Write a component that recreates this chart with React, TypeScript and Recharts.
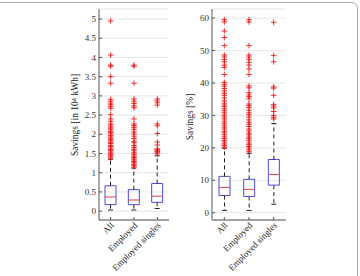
import React from 'react';
import { ComposedChart, Bar, Scatter, XAxis, YAxis, CartesianGrid } from 'recharts';

const categories = ['All', 'Employed', 'Employed singles'];

// energy savings, 10^4 kWh
const energyLow = [0.03, 0.03, 0.07];
const energyQ1 = [0.17, 0.17, 0.23];
const energyMedian = [0.37, 0.29, 0.39];
const energyQ3 = [0.66, 0.56, 0.72];
const energyHigh = [1.35, 1.12, 1.44];
const energyTicks = [0, 0.5, 1, 1.5, 2, 2.5, 3, 3.5, 4, 4.5, 5];

const energyOutAll = [
  4.95, 4.06, 3.8, 3.77, 3.5, 3.33, 2.91, 2.86, 2.81, 2.77, 2.72, 2.68, 2.51, 2.4, 2.34,
  2.27, 2.24, 2.19, 2.16, 2.12, 2.07, 2.05, 2.01, 1.97, 1.93, 1.9, 1.86, 1.83, 1.79, 1.76,
  1.71, 1.68, 1.64, 1.61, 1.58, 1.54, 1.51, 1.47, 1.44, 1.41, 1.38,
];
const energyOutEmployed = [
  3.8, 3.77, 3.33, 2.92, 2.86, 2.8, 2.74, 2.69, 2.4, 2.27, 2.23, 2.18, 2.13, 2.06, 2.01,
  1.95, 1.89, 1.82, 1.78, 1.71, 1.66, 1.61, 1.57, 1.52, 1.48, 1.43, 1.4, 1.36, 1.33, 1.29,
  1.26, 1.22, 1.19, 1.15,
];
const energyOutSingles = [
  2.92, 2.87, 2.82, 2.76, 2.27, 2.22, 2.02, 1.8, 1.72, 1.62, 1.6, 1.57, 1.55, 1.52, 1.49,
];

// relative savings, %
const shareLow = [0.7, 0.7, 2.6];
const shareQ1 = [5.3, 5.0, 8.5];
const shareMedian = [7.8, 7.2, 11.8];
const shareQ3 = [11.2, 10.3, 16.4];
const shareHigh = [19.9, 18.3, 27.5];
const shareTicks = [0, 10, 20, 30, 40, 50, 60];

const shareOutAll = [
  59.5, 58.8, 56, 54, 51.5, 48.6, 48, 47.2, 46.5, 45.5, 44.8, 42.6, 40.2, 39.6, 39, 38.3,
  37.5, 36.8, 36.2, 35.4, 34.5, 33.8, 33.2, 32.7, 32, 31.4, 30.8, 30.1, 29.5, 28.9, 28.2,
  27.6, 27, 26.4, 25.8, 25.1, 24.6, 24, 23.4, 22.9, 22.3, 21.8, 21.2, 20.7, 20.2,
];
const shareOutEmployed = [
  59.5, 58.8, 51.5, 48.6, 48, 47.3, 46.4, 45.5, 44.3, 42.6, 39.1, 38.5, 37, 36.3, 35.8,
  35.1, 33.5, 33, 32.4, 31.6, 30.8, 30.2, 29.5, 28.6, 27.9, 27.3, 26.6, 25.8, 25.2, 24.5,
  24, 23.3, 22.8, 22.2, 21.5, 21, 20.4, 19.9, 19.3, 18.8,
];
const shareOutSingles = [
  58.7, 48.5, 46.5, 38.8, 38.4, 36.2, 33.4, 32.9, 32.3, 31.2, 30, 29.4, 28.9,
];

const FONT = '"Liberation Serif", "DejaVu Serif", serif';
const AXIS = '#555555';
const BOX = '#4b4bd6';
const MEDIAN = '#e0404a';
const OUTLIER = '#f01010';

// stacked segments: hidden base, lower whisker, lower box, upper box, upper whisker
const buildRows = (low: number[], q1: number[], med: number[], q3: number[], high: number[]) =>
  categories.map((name, i) => ({
    name,
    base: low[i],
    wLow: q1[i] - low[i],
    boxLow: med[i] - q1[i],
    boxHigh: q3[i] - med[i],
    wHigh: high[i] - q3[i],
  }));

const buildOutliers = (lists: number[][]) =>
  lists.flatMap((list, i) => list.map((v) => ({ name: categories[i], v })));

const LowerWhisker = (p: any) => {
  const cx = p.x + p.width / 2;
  return (
    <g>
      <line x1={cx} x2={cx} y1={p.y} y2={p.y + p.height} stroke="#222" strokeDasharray="4 3" />
      <line x1={cx - 2.5} x2={cx + 2.5} y1={p.y + p.height} y2={p.y + p.height} stroke="#222" />
    </g>
  );
};

const UpperWhisker = (p: any) => {
  const cx = p.x + p.width / 2;
  return (
    <g>
      <line x1={cx} x2={cx} y1={p.y + p.height} y2={p.y} stroke="#222" strokeDasharray="4 3" />
      <line x1={cx - 2.5} x2={cx + 2.5} y1={p.y} y2={p.y} stroke="#222" />
    </g>
  );
};

const BoxLower = (p: any) => (
  <g>
    <path
      d={`M${p.x},${p.y} V${p.y + p.height} H${p.x + p.width} V${p.y}`}
      fill="none"
      stroke={BOX}
    />
    <line x1={p.x} x2={p.x + p.width} y1={p.y} y2={p.y} stroke={MEDIAN} />
  </g>
);

const BoxUpper = (p: any) => (
  <path
    d={`M${p.x},${p.y + p.height} V${p.y} H${p.x + p.width} V${p.y + p.height}`}
    fill="none"
    stroke={BOX}
  />
);

const Cross = (p: any) => (
  <path
    d={`M${p.cx - 2.8},${p.cy} H${p.cx + 2.8} M${p.cx},${p.cy - 2.8} V${p.cy + 2.8}`}
    stroke={OUTLIER}
    strokeOpacity={0.85}
    strokeWidth={1}
  />
);

const CategoryTick = (p: any) => {
  const x = p.x + 4;
  const y = p.y + 6;
  return (
    <text
      x={x}
      y={y}
      transform={`rotate(-45 ${x} ${y})`}
      textAnchor="end"
      fontSize={9}
      fontFamily={FONT}
      fill="#222"
    >
      {p.payload.value}
    </text>
  );
};

interface PanelProps {
  rows: ReturnType<typeof buildRows>;
  outliers: { name: string; v: number }[];
  domain: [number, number];
  ticks: number[];
  width: number;
  axisWidth: number;
  right: number;
}

const BoxPanel: React.FC<PanelProps> = ({ rows, outliers, domain, ticks, width, axisWidth, right }) => (
  <ComposedChart
    width={width}
    height={276}
    data={rows}
    margin={{ top: 9, right, bottom: 0, left: 0 }}
    barSize={11}
  >
    <CartesianGrid vertical={false} stroke="#e6e6e6" />
    <XAxis
      dataKey="name"
      allowDuplicatedCategory={false}
      height={56}
      stroke={AXIS}
      tickSize={-3}
      tickMargin={3}
      tick={<CategoryTick />}
      interval={0}
    />
    <XAxis
      xAxisId="top"
      orientation="top"
      dataKey="name"
      allowDuplicatedCategory={false}
      height={0}
      stroke={AXIS}
      tickSize={-3}
      tickFormatter={() => ''}
      interval={0}
    />
    <YAxis
      type="number"
      domain={domain}
      ticks={ticks}
      allowDataOverflow
      width={axisWidth}
      stroke={AXIS}
      tickSize={-3}
      tickMargin={6}
      interval={0}
      tick={{ fontSize: 9, fontFamily: FONT, fill: '#333' }}
    />
    <YAxis
      yAxisId="r"
      orientation="right"
      type="number"
      domain={domain}
      ticks={ticks}
      allowDataOverflow
      width={0}
      stroke={AXIS}
      tickSize={-3}
      tickFormatter={() => ''}
      interval={0}
    />
    <Bar dataKey="base" stackId="b" fill="none" isAnimationActive={false} />
    <Bar dataKey="wLow" stackId="b" shape={<LowerWhisker />} isAnimationActive={false} />
    <Bar dataKey="boxLow" stackId="b" shape={<BoxLower />} isAnimationActive={false} />
    <Bar dataKey="boxHigh" stackId="b" shape={<BoxUpper />} isAnimationActive={false} />
    <Bar dataKey="wHigh" stackId="b" shape={<UpperWhisker />} isAnimationActive={false} />
    <Scatter data={outliers} dataKey="v" shape={<Cross />} isAnimationActive={false} />
  </ComposedChart>
);

const energyRows = buildRows(energyLow, energyQ1, energyMedian, energyQ3, energyHigh);
const shareRows = buildRows(shareLow, shareQ1, shareMedian, shareQ3, shareHigh);
const energyOutliers = buildOutliers([energyOutAll, energyOutEmployed, energyOutSingles]);
const shareOutliers = buildOutliers([shareOutAll, shareOutEmployed, shareOutSingles]);

export default function App() {
  return (
    <div style={{ position: 'relative', width: 360, height: 276, overflow: 'hidden', background: '#fff' }}>
      <style>{'body{margin:0}'}</style>
      <div
        style={{
          position: 'absolute',
          left: -10,
          top: 2,
          width: 366,
          height: 290,
          border: '1.5px solid #a8a8a8',
          borderRadius: 6,
        }}
      />
      <div style={{ position: 'absolute', left: 0, top: 0 }}>
        <BoxPanel
          rows={energyRows}
          outliers={energyOutliers}
          domain={[-0.23, 5.26]}
          ticks={energyTicks}
          width={175}
          axisWidth={99}
          right={6}
        />
      </div>
      <div style={{ position: 'absolute', left: 175, top: 0 }}>
        <BoxPanel
          rows={shareRows}
          outliers={shareOutliers}
          domain={[-2.25, 62.8]}
          ticks={shareTicks}
          width={185}
          axisWidth={37}
          right={74}
        />
      </div>
      <svg width={360} height={276} style={{ position: 'absolute', left: 0, top: 0, pointerEvents: 'none' }}>
        <text
          x={78}
          y={115}
          transform="rotate(-90 78 115)"
          textAnchor="middle"
          fontSize={9.5}
          fontFamily={FONT}
          fill="#222"
        >
          Savings [in 10⁴ kWh]
        </text>
        <text
          x={193}
          y={117}
          transform="rotate(-90 193 117)"
          textAnchor="middle"
          fontSize={9.5}
          fontFamily={FONT}
          fill="#222"
        >
          Savings [%]
        </text>
      </svg>
    </div>
  );
}
